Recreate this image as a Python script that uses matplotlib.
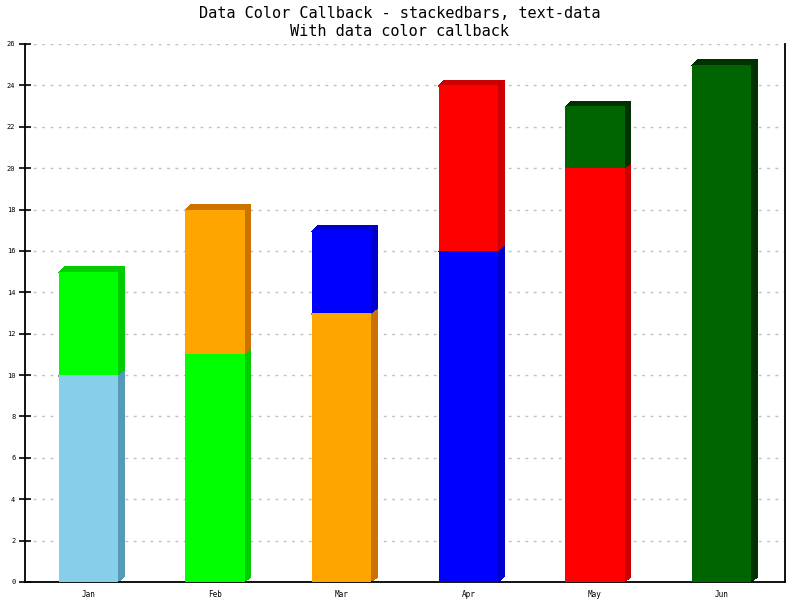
import matplotlib
matplotlib.use("Agg")
from matplotlib import pyplot as plt
from matplotlib.patches import Polygon

months = ["Jan", "Feb", "Mar", "Apr", "May", "Jun"]
lower = [10, 11, 13, 16, 20, 25]
upper = [5, 7, 4, 8, 3, 0]

# data color callback: colour index = row + column
palette = ["#87CEEB", "#00FF00", "#FFA500", "#0000FF", "#FF0000", "#006400"]

title = "Data Color Callback - stackedbars, text-data\nWith data color callback"


def shade(c):
    r, g, b = matplotlib.colors.to_rgb(c)
    return tuple(max(0.0, v - 0.2) for v in (r, g, b))


W, H = 800, 600
fig = plt.figure(figsize=(8, 6), dpi=100)
ax_l, ax_b, ax_w, ax_h = 25 / W, 18 / H, 760 / W, 538 / H
ax = fig.add_axes([ax_l, ax_b, ax_w, ax_h])

ymax = 26
ax.set_xlim(-0.5, len(months) - 0.5)
ax.set_ylim(0, ymax)

# pixel depth of the 3d shading, converted to data units
dx = 6 * (len(months)) / (ax_w * W)
dy = 5 * ymax / (ax_h * H)

bw = 0.47
for i in range(len(months)):
    bottom = 0
    for j, v in enumerate([lower[i], upper[i]]):
        if v == 0:
            continue
        c = palette[(i + j) % len(palette)]
        x0, x1 = i - bw / 2, i + bw / 2
        y0, y1 = bottom, bottom + v
        # side
        ax.add_patch(Polygon([(x1 - 0.005, y0), (x1 + dx, y0 + dy), (x1 + dx, y1 + dy), (x1 - 0.005, y1)],
                             closed=True, facecolor=shade(c), edgecolor="none",
                             antialiased=False, zorder=2))
        # top
        ax.add_patch(Polygon([(x0, y1 - 0.05), (x0 + dx, y1 + dy), (x1 + dx, y1 + dy), (x1, y1 - 0.05)],
                             closed=True, facecolor=shade(c), edgecolor="none",
                             antialiased=False, zorder=2))
        ax.bar(i, v, bw, bottom=bottom, color=c, edgecolor="none", antialiased=False, zorder=3)
        bottom = y1

ax.set_yticks(range(0, ymax + 1, 2))
ax.set_xticks(range(len(months)))
ax.set_xticklabels(months)
ax.grid(axis="y", color="#c0c0c0", linestyle=(0, (2, 4)), linewidth=1)
ax.set_axisbelow(True)
ax.tick_params(axis="y", direction="inout", length=8, width=1.2, labelsize=5, pad=3)
ax.tick_params(axis="x", length=0, labelsize=5.5, pad=6)
for lab in ax.get_xticklabels() + ax.get_yticklabels():
    lab.set_family("DejaVu Sans Mono")
ax.spines["top"].set_visible(False)
for s in ["left", "right", "bottom"]:
    ax.spines[s].set_linewidth(1.3)
    ax.spines[s].set_color("black")

fig.text(0.5, 1 - 22 / H, title, ha="center", va="center", family="DejaVu Sans Mono",
         fontsize=11, linespacing=1.25)

fig.savefig("out.png", dpi=100)
